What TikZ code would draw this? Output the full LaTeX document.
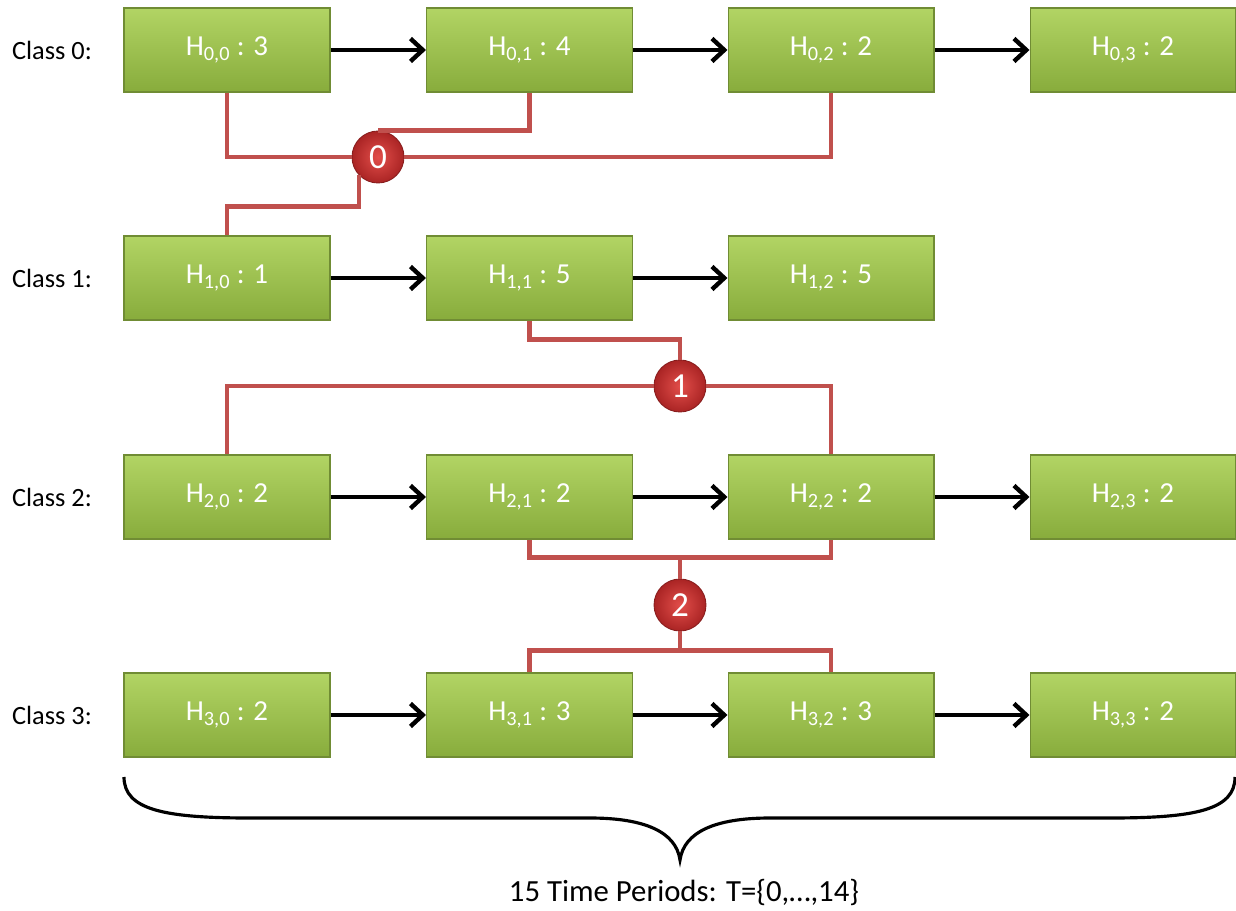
\documentclass[tikz,border=0pt]{standalone}
\usepackage{fontspec}
\setmainfont{Carlito}
\usetikzlibrary{arrows.meta, calc}

\definecolor{boxtop}{RGB}{178,212,100}
\definecolor{boxbot}{RGB}{136,172,60}
\definecolor{boxline}{RGB}{112,140,52}
\definecolor{linkred}{RGB}{192,80,77}
\definecolor{ballin}{RGB}{226,78,74}
\definecolor{ballout}{RGB}{170,36,36}

\begin{document}
\begin{tikzpicture}[x=0.02cm, y=-0.02cm,
  hbox/.style={draw=boxline, line width=0.6pt, top color=boxtop, bottom color=boxbot,
    minimum width=4.12cm, minimum height=1.68cm, inner sep=0pt, text=white,
    font=\fontsize{16.5}{18}\selectfont},
  cball/.style={circle, draw=ballout!80!black, line width=0.5pt, inner color=ballin,
    outer color=ballout, minimum size=1.04cm, inner sep=0pt, text=white,
    font=\fontsize{20}{22}\selectfont},
  classlbl/.style={font=\fontsize{15}{18}\selectfont},
  flow/.style={-{Straight Barb[length=7pt,width=13pt]}, line width=2.5pt, black},
  link/.style={draw=linkred, line width=2.6pt},
  brace/.style={line width=1.8pt, black}]
  \useasboundingbox (0,0) rectangle (1236,911);

  % class labels
  \node[classlbl] (cl0) at (52,50)  {Class 0:};
  \node[classlbl] (cl1) at (52,278) {Class 1:};
  \node[classlbl] (cl2) at (52,497) {Class 2:};
  \node[classlbl] (cl3) at (52,715) {Class 3:};

  % boxes
  \node[hbox] (h00) at (227,50)    {H\textsubscript{0,0} : 3};
  \node[hbox] (h01) at (529.5,50)  {H\textsubscript{0,1} : 4};
  \node[hbox] (h02) at (831,50)    {H\textsubscript{0,2} : 2};
  \node[hbox] (h03) at (1133,50)   {H\textsubscript{0,3} : 2};
  \node[hbox] (h10) at (227,278)   {H\textsubscript{1,0} : 1};
  \node[hbox] (h11) at (529.5,278) {H\textsubscript{1,1} : 5};
  \node[hbox] (h12) at (831,278)   {H\textsubscript{1,2} : 5};
  \node[hbox] (h20) at (227,497)   {H\textsubscript{2,0} : 2};
  \node[hbox] (h21) at (529.5,497) {H\textsubscript{2,1} : 2};
  \node[hbox] (h22) at (831,497)   {H\textsubscript{2,2} : 2};
  \node[hbox] (h23) at (1133,497)  {H\textsubscript{2,3} : 2};
  \node[hbox] (h30) at (227,715)   {H\textsubscript{3,0} : 2};
  \node[hbox] (h31) at (529.5,715) {H\textsubscript{3,1} : 3};
  \node[hbox] (h32) at (831,715)   {H\textsubscript{3,2} : 3};
  \node[hbox] (h33) at (1133,715)  {H\textsubscript{3,3} : 2};

  % arrows
  \draw[flow] (h00) -- (h01);
  \draw[flow] (h01) -- (h02);
  \draw[flow] (h02) -- (h03);
  \draw[flow] (h10) -- (h11);
  \draw[flow] (h11) -- (h12);
  \draw[flow] (h20) -- (h21);
  \draw[flow] (h21) -- (h22);
  \draw[flow] (h22) -- (h23);
  \draw[flow] (h30) -- (h31);
  \draw[flow] (h31) -- (h32);
  \draw[flow] (h32) -- (h33);

  % balls
  \node[cball] (c0) at (378,157) {0};
  \node[cball] (c1) at (680,386) {1};
  \node[cball] (c2) at (680,605) {2};

  % red links
  \draw[link] (h00.south) |- (c0);
  \draw[link] (h01.south) |- (c0.north);
  \draw[link] (h02.south) |- (c0);
  \draw[link] (c0.224) -- ++(0,31) -| (h10.north);

  \draw[link] (h11.south) -- ++(0,19) -| (c1.north);
  \draw[link] (h20.north) |- (c1);
  \draw[link] (h22.north) |- (c1);

  \draw[link] (h21.south) -- ++(0,18) coordinate (m2a) -| (h22.south);
  \draw[link] (m2a -| c2) -- (c2);
  \draw[link] (h31.north) -- ++(0,-22) coordinate (m2b) -| (h32.north);
  \draw[link] (c2) -- (m2b -| c2);

  % brace
  \draw[brace] (124,777) .. controls (124,810) and (165,818) .. (250,818)
    -- (590,818) .. controls (645,818) and (676,832) .. (680,860)
    .. controls (684,832) and (715,818) .. (770,818)
    -- (1110,818) .. controls (1195,818) and (1235,810) .. (1235,777);
  \node[font=\fontsize{17.5}{20}\selectfont] (periods) at (684,892) {15 Time Periods: T=\{0,…,14\}};
\end{tikzpicture}
\end{document}
